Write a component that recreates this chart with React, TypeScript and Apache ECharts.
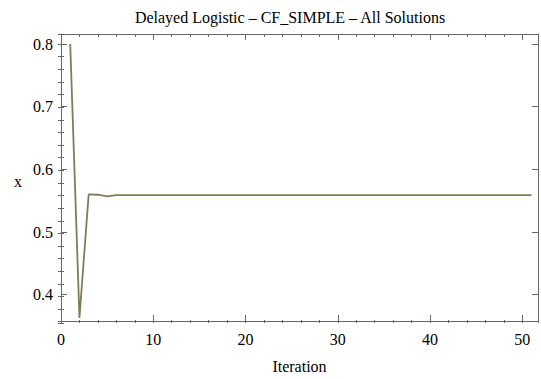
import React, { useEffect, useRef } from "react";
import * as echarts from "echarts";

const titleText = "Delayed Logistic \u2013 CF_SIMPLE \u2013 All Solutions";
const xName = "Iteration";
const yName = "x";

const iterations: number[] = [
  1, 2, 3, 4, 5, 6, 7, 8, 9, 10,
  11, 12, 13, 14, 15, 16, 17, 18, 19, 20,
  21, 22, 23, 24, 25, 26, 27, 28, 29, 30,
  31, 32, 33, 34, 35, 36, 37, 38, 39, 40,
  41, 42, 43, 44, 45, 46, 47, 48, 49, 50, 51,
];

const xValues: number[] = [
  0.8, 0.363, 0.56, 0.5595, 0.557, 0.559, 0.559, 0.559, 0.559, 0.559,
  0.559, 0.559, 0.559, 0.559, 0.559, 0.559, 0.559, 0.559, 0.559, 0.559,
  0.559, 0.559, 0.559, 0.559, 0.559, 0.559, 0.559, 0.559, 0.559, 0.559,
  0.559, 0.559, 0.559, 0.559, 0.559, 0.559, 0.559, 0.559, 0.559, 0.559,
  0.559, 0.559, 0.559, 0.559, 0.559, 0.559, 0.559, 0.559, 0.559, 0.559, 0.559,
];

const X_MIN = 0;
const X_MAX = 51.7;
const Y_MIN = 0.358;
const Y_MAX = 0.816;

const FONT = "Liberation Serif";
const FRAME = "#666666";
const FS = 16;

export default function App() {
  const ref = useRef<HTMLDivElement>(null);

  useEffect(() => {
    if (!ref.current) return;
    const chart = echarts.init(ref.current, undefined, { renderer: "svg" });

    const gridRect = { left: 61, right: 3, top: 34, bottom: 56 };

    const majorX = (pos: "bottom" | "top", labels: boolean, gridIndex: number) => ({
      type: "value" as const,
      gridIndex,
      position: pos,
      min: X_MIN,
      max: X_MAX,
      interval: 10,
      splitLine: { show: false },
      axisLine: { show: true, onZero: false, lineStyle: { color: FRAME, width: 1 } },
      axisTick: { show: true, inside: true, length: 6, lineStyle: { color: FRAME, width: 1 } },
      axisLabel: {
        show: labels,
        margin: 10,
        color: "#000",
        fontFamily: FONT,
        fontSize: FS,
        formatter: (v: number) => (Math.abs(v / 10 - Math.round(v / 10)) < 1e-6 ? String(Math.round(v)) : ""),
      },
      name: labels ? xName : "",
      nameLocation: "middle" as const,
      nameGap: 37,
      nameTextStyle: { color: "#000", fontFamily: FONT, fontSize: FS },
    });

    const minorX = (pos: "bottom" | "top", gridIndex: number) => ({
      type: "value" as const,
      gridIndex,
      position: pos,
      min: X_MIN,
      max: X_MAX,
      interval: 2,
      splitLine: { show: false },
      axisLine: { show: false },
      axisTick: { show: true, inside: true, length: 3, lineStyle: { color: FRAME, width: 1 } },
      axisLabel: { show: false },
    });

    const majorY = (pos: "left" | "right", labels: boolean, gridIndex: number) => ({
      type: "value" as const,
      gridIndex,
      position: pos,
      min: Y_MIN,
      max: Y_MAX,
      splitNumber: 5,
      minInterval: 0.1,
      maxInterval: 0.1,
      scale: true,
      splitLine: { show: false },
      axisLine: { show: true, onZero: false, lineStyle: { color: FRAME, width: 1 } },
      axisTick: { show: true, inside: true, length: 6, lineStyle: { color: FRAME, width: 1 } },
      axisLabel: {
        show: labels,
        margin: 8,
        color: "#000",
        fontFamily: FONT,
        fontSize: FS,
        formatter: (v: number) => (Math.abs(v * 10 - Math.round(v * 10)) < 1e-6 ? v.toFixed(1) : ""),
      },
    });

    const minorY = (pos: "left" | "right", gridIndex: number) => ({
      type: "value" as const,
      gridIndex,
      position: pos,
      min: Y_MIN,
      max: Y_MAX,
      splitNumber: 20,
      minInterval: 0.02,
      maxInterval: 0.02,
      scale: true,
      splitLine: { show: false },
      axisLine: { show: false },
      axisTick: { show: true, inside: true, length: 3, lineStyle: { color: FRAME, width: 1 } },
      axisLabel: { show: false },
    });

    const data = iterations.map((it, i) => [it, xValues[i]]);

    chart.setOption({
      animation: false,
      backgroundColor: "#ffffff",
      grid: [
        { ...gridRect, containLabel: false },
        { ...gridRect, containLabel: false },
      ],
      xAxis: [majorX("bottom", true, 0), majorX("top", false, 0), minorX("bottom", 1), minorX("top", 1)],
      yAxis: [majorY("left", true, 0), majorY("right", false, 0), minorY("left", 1), minorY("right", 1)],
      graphic: [
        {
          type: "text",
          x: 290,
          y: 17,
          style: {
            text: titleText,
            fill: "#000",
            font: `${FS}px "${FONT}"`,
            align: "center",
            verticalAlign: "middle",
          },
        },
        {
          type: "text",
          x: 18,
          y: 181,
          style: {
            text: yName,
            fill: "#000",
            font: `${FS}px "${FONT}"`,
            align: "center",
            verticalAlign: "middle",
          },
        },
      ],
      series: [
        {
          type: "line",
          xAxisIndex: 0,
          yAxisIndex: 0,
          data,
          showSymbol: false,
          symbol: "none",
          lineStyle: { color: "#837a5c", width: 1.8 },
          z: 3,
        },
        {
          type: "line",
          xAxisIndex: 2,
          yAxisIndex: 2,
          data: [],
          showSymbol: false,
          symbol: "none",
        },
      ],
    });

    return () => chart.dispose();
  }, []);

  return <div ref={ref} style={{ width: 541, height: 379, position: "absolute", left: 0, top: 0 }} />;
}
